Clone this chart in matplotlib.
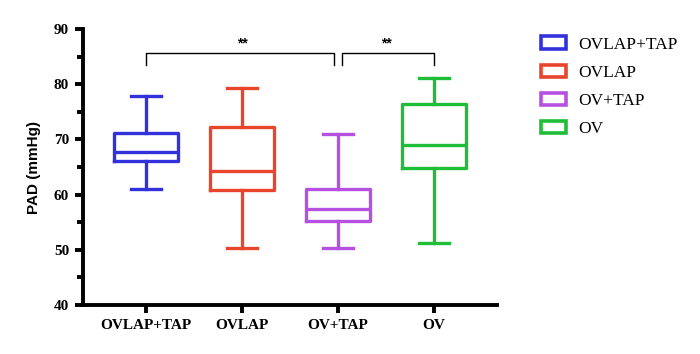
import matplotlib
matplotlib.use("Agg")
import matplotlib.pyplot as plt
from matplotlib.patches import Patch

# group names and box stats
groups = ["OVLAP+TAP", "OVLAP", "OV+TAP", "OV"]
whislo = [61.1, 50.4, 50.4, 51.3]
q1 = [66.1, 60.9, 55.3, 64.9]
med = [67.8, 64.3, 57.4, 68.9]
q3 = [71.2, 72.3, 61.1, 76.4]
whishi = [77.9, 79.4, 70.9, 81.1]
colors = ["#3232DC", "#E8452C", "#B650E0", "#20BE38"]

# significance brackets: (left group, right group, height, label)
brackets = [(0, 2, 85.6, "**"), (2, 3, 85.6, "**")]

serif = "Liberation Serif"
sans = "Liberation Sans"

fig = plt.figure(figsize=(7.0, 3.54), dpi=100)
ax = fig.add_axes([83 / 700, 49 / 354, 414 / 700, 276 / 354])

stats = []
for i, g in enumerate(groups):
    stats.append(dict(label=g, whislo=whislo[i], q1=q1[i], med=med[i],
                      q3=q3[i], whishi=whishi[i], fliers=[]))

lw = 2.4
bp = ax.bxp(stats, positions=range(len(groups)), widths=0.66,
            showfliers=False, patch_artist=False)
for i, c in enumerate(colors):
    bp["boxes"][i].set(color=c, linewidth=lw)
    bp["medians"][i].set(color=c, linewidth=lw)
    for w in bp["whiskers"][2 * i:2 * i + 2]:
        w.set(color=c, linewidth=lw)
    for cap in bp["caps"][2 * i:2 * i + 2]:
        cap.set(color=c, linewidth=lw)
        xd = cap.get_xdata()
        mid = (xd[0] + xd[1]) / 2
        cap.set_xdata([mid - 0.16, mid + 0.16])

# brackets
gap = 0.045
for a, b, h, lab in brackets:
    x0 = a + (gap if a == 2 else 0)
    x1 = b - (gap if b == 2 else 0)
    ax.plot([x0, x0, x1, x1], [h - 2.1, h, h, h - 2.1], color="black",
            linewidth=1.0, clip_on=False)
    ax.text((a + b) / 2, h + 0.6, lab, ha="center", va="bottom",
            fontsize=10, fontfamily=sans, fontweight="bold")

ax.set_xlim(-0.656, 3.656)
ax.set_ylim(40, 90)
ax.set_yticks([40, 50, 60, 70, 80, 90])
ax.set_yticks([45, 55, 65, 75, 85], minor=True)
ax.set_xticks(range(len(groups)))
ax.set_xticklabels(groups)

for s in ["top", "right"]:
    ax.spines[s].set_visible(False)
for s in ["left", "bottom"]:
    ax.spines[s].set_linewidth(2.8)

ax.tick_params(axis="both", which="major", direction="out", length=6,
               width=2.8, labelsize=11, pad=4)
ax.tick_params(axis="y", which="minor", direction="out", length=4, width=2.8)
for lab in ax.get_xticklabels() + ax.get_yticklabels():
    lab.set_fontfamily(serif)
    lab.set_fontweight("bold")

ax.set_ylabel("PAD (mmHg)", fontsize=11, fontfamily=sans, fontweight="bold",
              labelpad=9)

handles = [Patch(facecolor="white", edgecolor=c, linewidth=2.6, label=g)
           for g, c in zip(groups, colors)]
fig.legend(handles=handles, loc="upper left", bbox_to_anchor=(541 / 700, 0.897),
           frameon=False, prop={"family": serif, "size": 12.5},
           handlelength=1.45, handleheight=0.72, handletextpad=0.7,
           labelspacing=0.68, borderpad=0, borderaxespad=0)

fig.savefig("out.png", dpi=100)
